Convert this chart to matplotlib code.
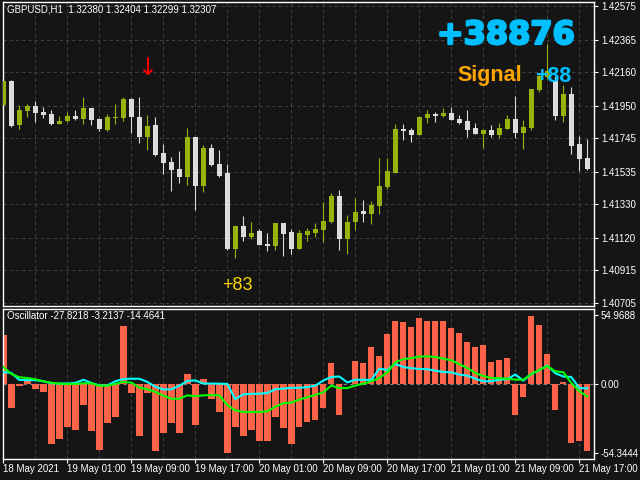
import numpy as np
import matplotlib.pyplot as plt
import matplotlib.patheffects as pe

plt.rcParams['font.family'] = ['Liberation Sans', 'DejaVu Sans']

# GBPUSD H1 candles, 18 May 17:00 -> 21 May 18:00
opens = [1.41956, 1.42105, 1.41830, 1.41916, 1.41948, 1.41910, 1.41897, 1.41836, 1.41853, 1.41885,
         1.41866, 1.41935, 1.41866, 1.41797, 1.41874, 1.41874, 1.41992, 1.41879, 1.41755, 1.41828,
         1.41652, 1.41595, 1.41551, 1.41503, 1.41753, 1.41446, 1.41683, 1.41583, 1.41526, 1.41049,
         1.41192, 1.41125, 1.41161, 1.41081, 1.41068, 1.41211, 1.41154, 1.41049, 1.41138, 1.41150,
         1.41169, 1.41219, 1.41381, 1.41112, 1.41219, 1.41287, 1.41270, 1.41320, 1.41440, 1.41529,
         1.41803, 1.41797, 1.41765, 1.41872, 1.41897, 1.41885, 1.41904, 1.41866, 1.41853, 1.41809,
         1.41771, 1.41797, 1.41765, 1.41803, 1.41866, 1.41778, 1.41809, 1.42049, 1.42130, 1.42112,
         1.41885, 1.42023, 1.41709, 1.41620]
highs = [1.42154, 1.42112, 1.41954, 1.41960, 1.41977, 1.41942, 1.41921, 1.41885, 1.41910, 1.41921,
         1.42005, 1.41935, 1.41872, 1.41897, 1.41960, 1.42005, 1.41998, 1.42005, 1.41891, 1.41879,
         1.41709, 1.41627, 1.41665, 1.41809, 1.41753, 1.41702, 1.41709, 1.41671, 1.41583, 1.41192,
         1.41255, 1.41218, 1.41173, 1.41148, 1.41211, 1.41211, 1.41173, 1.41167, 1.41180, 1.41211,
         1.41343, 1.41400, 1.41419, 1.41262, 1.41369, 1.41356, 1.41350, 1.41620, 1.41620, 1.41834,
         1.41834, 1.41809, 1.41885, 1.41923, 1.41910, 1.41935, 1.41942, 1.41891, 1.41923, 1.41841,
         1.41803, 1.41828, 1.41841, 1.41891, 1.42011, 1.41860, 1.42055, 1.42149, 1.42338, 1.42137,
         1.42080, 1.42067, 1.41759, 1.41740]
lows = [1.41839, 1.41818, 1.41805, 1.41880, 1.41849, 1.41874, 1.41830, 1.41836, 1.41849, 1.41860,
        1.41836, 1.41830, 1.41792, 1.41792, 1.41836, 1.41855, 1.41780, 1.41717, 1.41673, 1.41633,
        1.41522, 1.41415, 1.41465, 1.41452, 1.41295, 1.41408, 1.41570, 1.41503, 1.41043, 1.40993,
        1.41100, 1.41112, 1.41075, 1.41037, 1.41043, 1.41005, 1.41018, 1.41049, 1.41100, 1.41125,
        1.41093, 1.41213, 1.41043, 1.41018, 1.41169, 1.41219, 1.41207, 1.41270, 1.41427, 1.41526,
        1.41736, 1.41723, 1.41765, 1.41841, 1.41847, 1.41879, 1.41860, 1.41834, 1.41753, 1.41771,
        1.41683, 1.41753, 1.41746, 1.41803, 1.41746, 1.41677, 1.41797, 1.42036, 1.42118, 1.41860,
        1.41847, 1.41646, 1.41539, 1.41545]
closes = [1.42105, 1.41824, 1.41923, 1.41948, 1.41906, 1.41893, 1.41836, 1.41853, 1.41885, 1.41866,
          1.41935, 1.41860, 1.41803, 1.41879, 1.41879, 1.41992, 1.41880, 1.41755, 1.41822, 1.41639,
          1.41591, 1.41547, 1.41503, 1.41753, 1.41446, 1.41683, 1.41576, 1.41509, 1.41049, 1.41192,
          1.41125, 1.41148, 1.41075, 1.41068, 1.41211, 1.41144, 1.41049, 1.41148, 1.41161, 1.41173,
          1.41224, 1.41381, 1.41112, 1.41218, 1.41280, 1.41270, 1.41325, 1.41444, 1.41539, 1.41803,
          1.41790, 1.41765, 1.41879, 1.41897, 1.41885, 1.41904, 1.41860, 1.41841, 1.41797, 1.41771,
          1.41797, 1.41765, 1.41809, 1.41866, 1.41778, 1.41816, 1.42055, 1.42137, 1.42168, 1.41885,
          1.42023, 1.41696, 1.41614, 1.41551]

# oscillator: histogram + two lines
hist = [39.5, -18.6, -1.0, 4.2, -3.7, -5.8, -47.2, -43.2, -33.7, -36.1,
        -16.2, -36.8, -52.0, -30.8, -26.0, 46.7, -6.6, -40.8, -6.6, -52.8,
        -38.5, -30.5, -38.5, 8.5, -32.1, 4.5, -11.9, -21.7, -54.3, -33.7,
        -40.8, -36.1, -44.8, -44.8, -25.7, -34.5, -47.2, -33.7, -29.7, -28.1,
        -18.6, 17.2, -24.1, 0.0, 18.8, 17.2, 30.0, 22.8, 40.3, 50.7,
        49.9, 45.9, 53.0, 50.7, 50.7, 50.7, 45.1, 41.1, 33.9, 30.0,
        31.6, 18.0, 19.6, 21.2, -24.1, -9.8, 54.6, 47.5, 24.4, -20.2,
        2.1, -46.4, -44.8, -52.8]
cyan_line = [9.8, 9.0, 3.5, 3.3, 3.3, 2.4, 0.8, 0.6, 0.6, 1.1,
             3.6, 1.1, -0.9, -0.9, 2.4, 4.2, 4.4, 4.4, 1.9, -1.9,
             -4.1, -4.0, -1.1, 2.6, 3.1, 0.6, 0.6, 0.5, 0.3, -11.8,
             -8.0, -7.6, -7.5, -6.9, -4.0, -3.4, -2.8, -2.8, -2.2, -1.1,
             3.0, 5.8, 6.2, 1.5, 3.6, 3.6, 3.4, 12.4, 11.4, 16.2,
             13.8, 12.8, 12.2, 12.0, 10.9, 9.8, 9.5, 7.7, 6.9, 4.5,
             2.4, 2.4, 3.7, 4.0, 7.8, 2.9, 8.2, 11.1, 15.0, 8.8,
             6.2, 5.8, -3.0, -3.2]
green_line = [13.8, 8.2, 5.6, 5.0, 4.0, 2.4, 1.3, 0.5, 0.3, 0.3,
              0.8, 0.8, -1.1, -1.1, 0.3, 1.9, 1.3, -2.5, -4.0, -6.0,
              -9.0, -11.5, -11.5, -8.8, -9.5, -8.8, -8.5, -8.8, -16.5, -20.8,
              -22.0, -22.0, -22.0, -21.5, -17.8, -15.0, -14.6, -12.2, -10.3, -8.5,
              -6.4, -1.0, -3.0, -3.0, -1.0, 0.5, 2.4, 5.0, 9.5, 17.5,
              20.0, 20.8, 22.0, 22.3, 21.7, 20.4, 19.1, 16.0, 13.0, 9.0,
              6.6, 5.0, 4.8, 4.5, 3.7, 3.7, 8.2, 11.4, 14.5, 10.3,
              9.6, 1.1, -5.5, -9.7]

price_ticks = [1.42575, 1.42365, 1.42160, 1.41950, 1.41745, 1.41535,
               1.41330, 1.41120, 1.40915, 1.40705]
osc_ticks = [54.9688, 0.0, -54.3444]
osc_tick_labels = ['54.9688', '0.00', '-54.3444']
time_pos = [0, 8, 16, 24, 32, 40, 48, 56, 64, 72]
time_labels = ['18 May 2021', '19 May 01:00', '19 May 09:00', '19 May 17:00',
               '20 May 01:00', '20 May 09:00', '20 May 17:00', '21 May 01:00',
               '21 May 09:00', '21 May 17:00']

signal_bar = 18
signal_price = 1.42190

bg = '#151515'
grid_c = '#404040'
bull = '#99b10c'
bear = '#dcdcdc'

fig = plt.figure(figsize=(6.4, 4.8), dpi=100, facecolor=bg)
ax = fig.add_axes([3/640, 1-305.5/480, 591/640, 303.5/480])
osc = fig.add_axes([3/640, 1-458.7/480, 591/640, 150.2/480])

x = np.arange(len(opens))
o = np.array(opens); c = np.array(closes)
cols = np.where(c >= o, bull, bear)

for a in (ax, osc):
    a.set_facecolor(bg)
    a.set_xlim(-0.04, 73.84)
    for s in a.spines.values():
        s.set_color('white')
        s.set_linewidth(1)
    a.vlines(np.arange(4, 73, 4), 0, 1, transform=a.get_xaxis_transform(),
             colors=grid_c, lw=0.75, ls=(0, (3, 3)), zorder=0)
    a.yaxis.tick_right()
    a.tick_params(axis='y', colors='white', labelsize=7, length=3, width=0.8, pad=2)

# main price panel
for p in price_ticks:
    ax.axhline(p, color=grid_c, lw=0.75, ls=(0, (3, 3)), zorder=0)
ax.vlines(x, lows, highs, colors=cols, lw=0.8, zorder=2)
ax.bar(x, np.maximum(np.abs(c - o), 0.00003), bottom=np.minimum(o, c),
       width=0.62, color=cols, linewidth=0, zorder=3)
ax.set_ylim(1.40692, 1.42603)
ax.set_yticks(price_ticks)
ax.set_yticklabels([f'{p:.5f}' for p in price_ticks])
ax.set_xticks([])

ax.text(signal_bar, signal_price, '\u2193', color='red', fontsize=17,
        ha='center', va='center', family='DejaVu Sans')

fig.text(7/640, 1-10/480, 'GBPUSD,H1  1.32380 1.32404 1.32299 1.32307',
         color='white', fontsize=7, va='center')
fig.text(575/640, 1-44/480, '+38876', color='#00bfff', fontsize=23,
         fontweight='bold', family='DejaVu Sans', ha='right', va='baseline',
         path_effects=[pe.withStroke(linewidth=1.6, foreground='#00bfff')])
fig.text(457/640, 1-81.5/480, 'Signal', color='#ffa500', fontsize=15.5,
         fontweight='bold', ha='left', va='baseline')
fig.text(535/640, 1-81.5/480, '+88', color='#00bfff', fontsize=15.5,
         fontweight='bold', ha='left', va='baseline')
fig.text(222/640, 1-290.5/480, '+83', color='#ffd700', fontsize=13,
         ha='left', va='baseline')

# oscillator panel
osc.bar(x, hist, width=0.8, color='#ff6347', linewidth=0, zorder=2)
osc.axhline(0, color='#808080', lw=0.8, ls=(0, (3, 3)), zorder=1)
osc.plot(x, cyan_line, color='#00ffff', lw=1.5, zorder=4)
osc.plot(x, green_line, color='#00ff00', lw=1.5, zorder=5)
osc.set_ylim(-59.2, 60.3)
osc.set_yticks(osc_ticks)
osc.set_yticklabels(osc_tick_labels)
osc.set_xticks(time_pos)
osc.set_xticklabels(time_labels)
osc.tick_params(axis='x', colors='white', labelsize=7, length=3, width=0.8, pad=1)
for lbl in osc.get_xticklabels():
    lbl.set_horizontalalignment('left')

fig.text(7/640, 1-316/480, 'Oscillator -27.8218 -3.2137 -14.4641',
         color='white', fontsize=7, va='center')

plt.savefig('out.png', dpi=100, facecolor=bg)
